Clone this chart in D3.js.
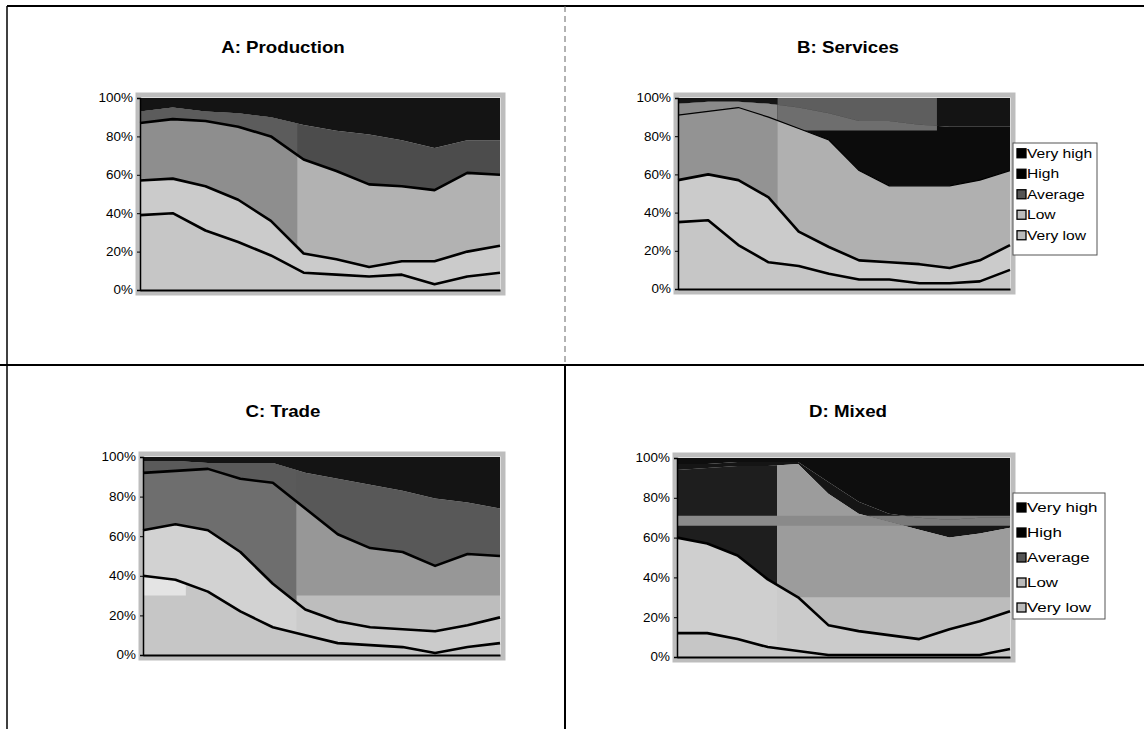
<!DOCTYPE html>
<html><head><meta charset="utf-8">
<script src="https://cdn.jsdelivr.net/npm/d3@7"></script>
<style>
html,body{margin:0;padding:0;background:#fff;}
svg{display:block;font-family:"Liberation Sans",Arial,sans-serif;}
</style></head>
<body>
<svg id="chart" width="1144" height="729"></svg>
<script>
// ---------- data ----------
const categories = ["1","2","3","4","5","6","7","8","9","10","11","12"];
const seriesNames = ["Very low","Low","Average","High","Very high"];
const legendOrder = ["Very high","High","Average","Low","Very low"];
const yTickValues = [0,20,40,60,80,100];
const yTickLabels = ["0%","20%","40%","60%","80%","100%"];
const panelTitles = ["A: Production","B: Services","C: Trade","D: Mixed"];

// A: Production (percent of firms)
const prodVeryLow  = [39,40,31,25,18, 9, 8, 7, 8, 3, 7, 9];
const prodLow      = [18,18,23,22,18,10, 8, 5, 7,12,13,14];
const prodAverage  = [30,31,34,38,44,49,46,43,39,37,41,37];
const prodHigh     = [ 6, 6, 5, 7,10,18,21,26,24,22,17,18];
const prodVeryHigh = [ 7, 5, 7, 8,10,14,17,19,22,26,22,22];
// B: Services
const servVeryLow  = [35,36,23,14,12, 8, 5, 5, 3, 3, 4,10];
const servLow      = [22,24,34,34,18,14,10, 9,10, 8,11,13];
const servAverage  = [34,33,38,42,54,56,47,40,41,43,42,39];
const servHigh     = [ 6, 5, 3, 7,11,14,26,34,32,31,28,23];
const servVeryHigh = [ 3, 2, 2, 3, 5, 8,12,12,14,15,15,15];
// C: Trade
const tradVeryLow  = [40,38,32,22,14,10, 6, 5, 4, 1, 4, 6];
const tradLow      = [23,28,31,30,22,13,11, 9, 9,11,11,13];
const tradAverage  = [29,27,31,37,51,51,44,40,39,33,36,31];
const tradHigh     = [ 6, 5, 3, 8,10,18,28,32,31,34,26,24];
const tradVeryHigh = [ 2, 2, 3, 3, 3, 8,11,14,17,21,23,26];
// D: Mixed
const mixVeryLow   = [12,12, 9, 5, 3, 1, 1, 1, 1, 1, 1, 4];
const mixLow       = [48,45,42,34,27,15,12,10, 8,13,17,19];
const mixAverage   = [34,38,45,57,67,66,59,57,55,46,44,42];
const mixHigh      = [ 3, 2, 2, 2, 1, 6, 6, 4, 6, 9, 8, 5];
const mixVeryHigh  = [ 3, 3, 2, 2, 2,12,22,28,30,31,30,30];

// ---------- layout / style ----------
const panels = [
  {title: panelTitles[0], series: [prodVeryLow,prodLow,prodAverage,prodHigh,prodVeryHigh],
   plot:{x:140,y:98,w:360,h:192}, titlePos:[283,53], legend:null,
   palette:["#c6c6c6","#cbcbcb","#b2b2b2","#4c4c4c","#141414"],
   lineW:[2.6,2.6,2.6,0],
   tiles:[{x0:0,x1:0.437,y0:0,y1:100,fills:{"Average":"#8e8e8e","High":"#5c5c5c"}}]},
  {title: panelTitles[1], series: [servVeryLow,servLow,servAverage,servHigh,servVeryHigh],
   plot:{x:678,y:98,w:332,h:191}, titlePos:[848,53],
   legend:{x:1013,y:143,w:84,h:112,step:20.5,font:12,off:0},
   palette:["#c6c6c6","#cbcbcb","#b0b0b0","#0c0c0c","#141414"],
   lineW:[2.6,2.6,1.2,0],
   tiles:[{x0:0,x1:0.3,y0:0,y1:100,fills:{"Average":"#939393","High":"#8a8a8a"}},
          {x0:0.3,x1:0.78,y0:83,y1:100,fills:{"High":"#6e6e6e","Very high":"#5e5e5e"}}]},
  {title: panelTitles[2], series: [tradVeryLow,tradLow,tradAverage,tradHigh,tradVeryHigh],
   plot:{x:143,y:457,w:357,h:198}, titlePos:[283,417], legend:null,
   palette:["#c6c6c6","#cbcbcb","#bdbdbd","#585858","#141414"],
   lineW:[2.6,2.6,2.6,0],
   tiles:[{x0:0.43,x1:1,y0:30,y1:100,fills:{"Average":"#979797","Low":"#979797"}},
          {x0:0,x1:0.43,y0:0,y1:100,fills:{"Average":"#6e6e6e","Low":"#d2d2d2","High":"#5a5a5a"}},
          {x0:0,x1:0.12,y0:30,y1:39,fills:{"Very low":"#e4e4e4"}}]},
  {title: panelTitles[3], series: [mixVeryLow,mixLow,mixAverage,mixHigh,mixVeryHigh],
   plot:{x:677,y:458,w:333,h:199}, titlePos:[848,417],
   legend:{x:1013,y:493,w:92,h:126,step:25,font:13,off:2},
   palette:["#c6c6c6","#cbcbcb","#bcbcbc","#151515","#0e0e0e"],
   lineW:[2.6,2.6,0,0],
   tiles:[{x0:0.3,x1:1,y0:30,y1:100,fills:{"Average":"#9c9c9c"}},
          {x0:0,x1:0.3,y0:0,y1:100,fills:{"Average":"#1e1e1e","Low":"#cfcfcf"}},
          {x0:0,x1:1,y0:66,y1:71,fills:{"Average":"#8a8a8a","High":"#7a7a7a","Very high":"#7a7a7a"}}]}
];

const svg = d3.select("#chart");

function stretchText(sel, k){
  sel.each(function(){
    const L = this.getComputedTextLength();
    this.setAttribute("textLength", (L*k).toFixed(1));
    this.setAttribute("lengthAdjust","spacingAndGlyphs");
  });
}

// frame lines
svg.append("line").attr("x1",7).attr("x2",1144).attr("y1",6).attr("y2",6).attr("stroke","#000").attr("stroke-width",2);
svg.append("line").attr("x1",7).attr("x2",7).attr("y1",6).attr("y2",729).attr("stroke","#000").attr("stroke-width",1.5);
svg.append("line").attr("x1",0).attr("x2",1144).attr("y1",365).attr("y2",365).attr("stroke","#000").attr("stroke-width",2);
svg.append("line").attr("x1",565).attr("x2",565).attr("y1",6).attr("y2",365).attr("stroke","#666").attr("stroke-width",1).attr("stroke-dasharray","6,4");
svg.append("line").attr("x1",565).attr("x2",565).attr("y1",365).attr("y2",729).attr("stroke","#000").attr("stroke-width",2);

panels.forEach((p, pi) => {
  const {x:px, y:py, w, h} = p.plot;
  const rows = categories.map((c,i) => {
    const r = {cat:c};
    seriesNames.forEach((s,k) => r[s] = p.series[k][i]);
    return r;
  });
  const stack = d3.stack().keys(seriesNames)(rows);
  const x = d3.scalePoint().domain(categories).range([0,w]).padding(0);
  const y = d3.scaleLinear().domain([0,100]).range([h,0]);
  const area = d3.area().x(d => x(d.data.cat)).y0(d => y(d[0])).y1(d => y(d[1]));
  const topLine = d3.line().x(d => x(d.data.cat)).y(d => y(d[1]));

  // title
  const t = svg.append("text").attr("x",p.titlePos[0]).attr("y",p.titlePos[1])
    .attr("text-anchor","middle").attr("font-size",17).attr("font-weight","bold").text(p.title);
  stretchText(t, 1.1);

  // gray plot border
  svg.append("rect").attr("x",px-2).attr("y",py-3).attr("width",w+5).attr("height",h+6)
    .attr("fill","none").attr("stroke","#bdbdbd").attr("stroke-width",5);

  const g = svg.append("g").attr("transform",`translate(${px},${py})`);
  const color = d3.scaleOrdinal().domain(seriesNames).range(p.palette);

  g.selectAll("path.area").data(stack).join("path").attr("class","area")
    .attr("d", area).attr("fill", d => color(d.key));

  // scan tiles (shade differences in the printed original)
  p.tiles.forEach((tile, ti) => {
    const id = `clip${pi}_${ti}`;
    g.append("clipPath").attr("id", id).append("rect")
      .attr("x", tile.x0*w).attr("y", y(tile.y1)).attr("width",(tile.x1-tile.x0)*w).attr("height", y(tile.y0)-y(tile.y1));
    g.append("g").attr("clip-path",`url(#${id})`)
      .selectAll("path").data(stack.filter(s => tile.fills[s.key])).join("path")
      .attr("d", area).attr("fill", d => tile.fills[d.key]);
  });

  // boundary lines
  stack.slice(0,4).forEach((s,k) => {
    if (p.lineW[k] > 0) {
      g.append("path").datum(s).attr("d", topLine).attr("fill","none")
        .attr("stroke","#000").attr("stroke-width",p.lineW[k]).attr("stroke-linejoin","round");
    }
  });

  // axes
  const yAxis = d3.axisLeft(y).tickValues(yTickValues).tickFormat((d,i) => yTickLabels[i]).tickSize(3).tickPadding(4);
  const ag = g.append("g").call(yAxis);
  ag.select(".domain").attr("stroke","#000").attr("stroke-width",1.5);
  ag.selectAll(".tick line").attr("stroke","#000");
  ag.selectAll("text").attr("font-size",12).attr("fill","#000").attr("font-family","Liberation Sans, Arial, sans-serif")
    .each(function(){ stretchText(d3.select(this), 1.12); });
  const xAxis = d3.axisBottom(x).tickValues([]).tickSize(0);
  const xg = g.append("g").attr("transform",`translate(0,${h})`).call(xAxis);
  xg.select(".domain").attr("stroke","#000").attr("stroke-width",2);

  // legend
  if (p.legend) {
    const L = p.legend;
    svg.append("rect").attr("x",L.x).attr("y",L.y).attr("width",L.w).attr("height",L.h)
      .attr("fill","#fff").attr("stroke","#555").attr("stroke-width",1);
    legendOrder.forEach((name, i) => {
      const cy = L.y + 10 + i*L.step + (L.step-20)/2 + L.off;
      const k = seriesNames.indexOf(name);
      svg.append("rect").attr("x",L.x+4).attr("y",cy-4.5).attr("width",9).attr("height",9)
        .attr("fill", k >= 3 ? "#000" : (k===2 ? "#555" : "#bbb")).attr("stroke","#000").attr("stroke-width",1.3);
      const tx = svg.append("text").attr("x",L.x+14).attr("y",cy+4.5)
        .attr("font-size",L.font).attr("fill","#000").text(name);
      stretchText(tx, 1.3);
    });
  }
});
</script>
</body></html>
